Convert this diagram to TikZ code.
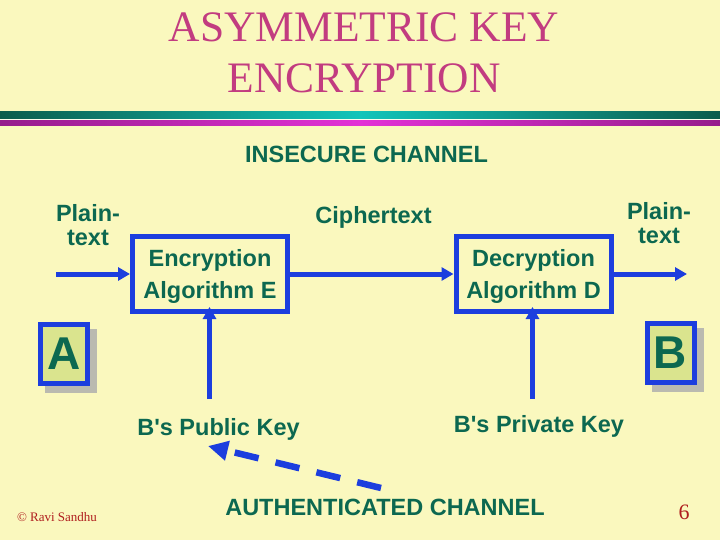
\documentclass[tikz,border=0pt]{standalone}
\usepackage{fontspec}
\setmainfont{Liberation Sans}[Ligatures=TeXOff]
\newfontfamily\seriffont{Liberation Serif}
\usetikzlibrary{arrows.meta,shadows}
\definecolor{bg}{RGB}{250,248,190}
\definecolor{tgreen}{RGB}{12,104,80}
\definecolor{tblue}{RGB}{28,62,222}
\definecolor{ttitle}{RGB}{194,60,128}
\definecolor{tealdark}{RGB}{12,92,76}
\definecolor{teallight}{RGB}{18,196,186}
\definecolor{magdark}{RGB}{150,28,140}
\definecolor{maglight}{RGB}{226,50,214}
\definecolor{boxfill}{RGB}{218,228,142}
\definecolor{shadowc}{RGB}{186,186,176}
\definecolor{tred}{RGB}{176,30,30}
\begin{document}
\begin{tikzpicture}[x=1pt,y=-1pt,
  lbl/.style={font=\bfseries\fontsize{23.5}{24}\selectfont, text=tgreen, inner sep=0pt},
  algbox/.style={draw=tblue, line width=5pt, minimum width=155pt, minimum height=75pt,
    align=center, text=tgreen, inner sep=0pt, font=\bfseries\fontsize{23.5}{29}\selectfont},
  partybox/.style={draw=tblue, fill=boxfill, line width=5pt, minimum width=47pt, minimum height=59pt,
    inner sep=0pt, text=tgreen, font=\bfseries\fontsize{46}{46}\selectfont,
    drop shadow={shadow xshift=7pt, shadow yshift=-7pt, fill=shadowc, draw=shadowc, line width=5pt, opacity=1}},
  arr/.style={draw=tblue, line width=5pt, -{Triangle[length=12pt,width=13pt]}},
  dasharr/.style={draw=tblue, line width=6.5pt, dash pattern=on 24.5pt off 17.5pt,
    -{Triangle[length=20pt,width=19pt]}}
]
\useasboundingbox (0,0) rectangle (720,540);
\fill[bg] (0,0) rectangle (720,540);
% title
\node[font=\seriffont\fontsize{43.5}{51}\selectfont, text=ttitle, align=center, inner sep=0pt]
  (title) at (364,52.5) {ASYMMETRIC KEY\\ENCRYPTION};
% rules
\shade[left color=tealdark, right color=tealdark, middle color=teallight] (0,112) rectangle (720,119);
\fill[white!70!bg] (0,119) rectangle (720,121);
\shade[left color=magdark, right color=magdark, middle color=maglight] (0,121) rectangle (720,126);
% labels
\node[lbl, anchor=base] (insec) at (366.5,163) {INSECURE CHANNEL};
\node[lbl, anchor=base] (cipher) at (373.5,223) {Ciphertext};
\node[lbl, align=center] (plainin) at (88,225.5) {Plain-\\text};
\node[lbl, align=center] (plainout) at (659,223) {Plain-\\text};
% boxes
\node[algbox] (enc) at (210,274) {\raisebox{-2.5pt}[\height][\depth]{\shortstack{Encryption\\[7pt]Algorithm E}}};
\node[algbox] (dec) at (533.5,274) {\raisebox{-2.5pt}[\height][\depth]{\shortstack{Decryption\\[7pt]Algorithm D}}};
\node[partybox] (A) at (64,353.5) {A};
\node[partybox] (B) at (670.5,353) {B};
% key labels
\node[lbl, anchor=base] (pub) at (218.5,435) {B's Public Key};
\node[lbl, anchor=base] (priv) at (539,432) {B's Private Key};
\node[lbl, anchor=base] (auth) at (385,515) {AUTHENTICATED CHANNEL};
% footer
\node[font=\seriffont\fontsize{13}{13}\selectfont, text=tred, anchor=base, inner sep=0pt] (copy) at (57,521) {© Ravi Sandhu};
\node[font=\seriffont\fontsize{22}{22}\selectfont, text=tred, anchor=base, inner sep=0pt] (pnum) at (684,519) {6};
% connectors
\coordinate (pin) at (56,274);
\coordinate (pout) at (687,274);
\coordinate (pubk) at (209.5,399);
\coordinate (privk) at (532.5,399);
\coordinate (authstart) at (381,488);
\coordinate (pubtip) at (208,446);
\draw[arr] (pin) -- (enc.west);
\draw[arr] (enc.east) -- (dec.west);
\draw[arr] (dec.east) -- (pout);
\draw[arr, shorten >=-7pt] (pubk) -- (pubk |- enc.south);
\draw[arr, shorten >=-7pt] (privk) -- (privk |- dec.south);
\draw[dasharr] (authstart) -- (pubtip);
\end{tikzpicture}
\end{document}
